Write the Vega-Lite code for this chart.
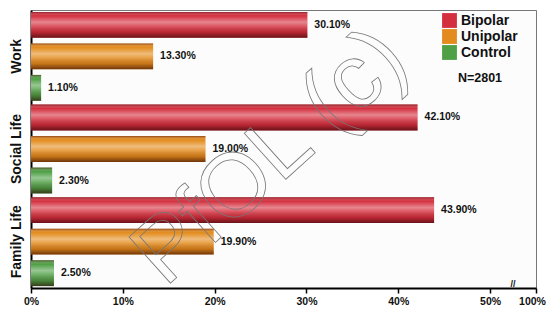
{
  "$schema": "https://vega.github.io/schema/vega-lite/v6.json",
  "width": 505,
  "height": 278,
  "autosize": {"type": "none"},
  "padding": {"left": 31, "top": 10, "right": 11, "bottom": 28},
  "background": "white",
  "config": {
    "font": "Liberation Sans",
    "view": {"stroke": "#777", "strokeWidth": 1, "fill": "#fcfcfc"}
  },
  "data": {
    "values": [
      {"cat": "Work", "group": "Bipolar", "value": 0.301},
      {"cat": "Work", "group": "Unipolar", "value": 0.133},
      {"cat": "Work", "group": "Control", "value": 0.011},
      {"cat": "Social Life", "group": "Bipolar", "value": 0.421},
      {"cat": "Social Life", "group": "Unipolar", "value": 0.19},
      {"cat": "Social Life", "group": "Control", "value": 0.023},
      {"cat": "Family Life", "group": "Bipolar", "value": 0.439},
      {"cat": "Family Life", "group": "Unipolar", "value": 0.199},
      {"cat": "Family Life", "group": "Control", "value": 0.025}
    ]
  },
  "layer": [
    {
      "mark": {"type": "bar", "cornerRadius": 0},
      "encoding": {
        "y": {"field": "cat", "type": "nominal", "sort": ["Work", "Social Life", "Family Life"],
              "scale": {"paddingInner": 0, "paddingOuter": 0},
              "axis": {"title": null, "labelAngle": 270, "labelAlign": "center", "labelBaseline": "bottom",
                       "labelFontSize": 14, "labelFontWeight": "bold", "labelColor": "#111", "labelPadding": 8,
                       "ticks": false, "domainColor": "#000", "domainWidth": 2}},
        "yOffset": {"field": "group", "type": "nominal", "sort": ["Bipolar", "Unipolar", "Control"],
                    "scale": {"paddingInner": 0.18, "paddingOuter": 0.06}},
        "x": {"field": "value", "type": "quantitative",
              "scale": {"domain": [0, 0.55], "nice": false, "zero": true},
              "axis": {"title": null, "grid": false, "values": [0, 0.1, 0.2, 0.3, 0.4, 0.5, 0.55],
                       "labelExpr": "datum.value > 0.52 ? '100%' : format(datum.value, '.0%')",
                       "labelFlush": false, "labelOverlap": false,
                       "labelOffset": {"condition": {"test": "datum.value > 0.52", "value": -4}, "value": 0},
                       "labelFontSize": 10.5, "labelFontWeight": "bold", "labelColor": "#111",
                       "domainColor": "#000", "domainWidth": 2, "tickColor": "#000", "tickWidth": 1.5, "tickSize": 5,
                       "labelPadding": 3}},
        "color": {"field": "group", "type": "nominal", "sort": ["Bipolar", "Unipolar", "Control"],
                  "scale": {"domain": ["Bipolar", "Unipolar", "Control"], "range": ["#d42f3e", "#e38b1c", "#4e9f45"]},
                  "legend": {"orient": "none", "legendX": 411, "legendY": 3, "title": "N=2801",
                             "titleOrient": "bottom", "titleAnchor": "middle", "titleFontSize": 12.5,
                             "titleFontWeight": "bold", "titleColor": "#111", "titlePadding": 12,
                             "labelFontSize": 14, "labelFontWeight": "bold", "labelColor": "#111",
                             "symbolType": "square", "symbolSize": 220, "symbolStrokeWidth": 0,
                             "rowPadding": 1, "labelOffset": 4}}
      }
    },
    {
      "mark": {"type": "bar",
               "color": {"gradient": "linear", "x1": 0, "y1": 0, "x2": 0, "y2": 1,
                         "stops": [
                           {"offset": 0, "color": "rgba(70,0,0,0.5)"},
                           {"offset": 0.15, "color": "rgba(255,255,255,0.0)"},
                           {"offset": 0.4, "color": "rgba(255,255,255,0.42)"},
                           {"offset": 0.55, "color": "rgba(255,255,255,0.2)"},
                           {"offset": 0.78, "color": "rgba(40,0,0,0.15)"},
                           {"offset": 1, "color": "rgba(40,0,0,0.62)"}
                         ]}},
      "encoding": {
        "y": {"field": "cat", "type": "nominal", "sort": ["Work", "Social Life", "Family Life"]},
        "yOffset": {"field": "group", "type": "nominal", "sort": ["Bipolar", "Unipolar", "Control"]},
        "x": {"field": "value", "type": "quantitative"}
      }
    },
    {
      "mark": {"type": "text", "align": "left", "baseline": "middle", "dx": 7, "fontSize": 10.5,
               "fontWeight": "bold", "color": "#111"},
      "encoding": {
        "y": {"field": "cat", "type": "nominal", "sort": ["Work", "Social Life", "Family Life"]},
        "yOffset": {"field": "group", "type": "nominal", "sort": ["Bipolar", "Unipolar", "Control"]},
        "x": {"field": "value", "type": "quantitative"},
        "text": {"field": "value", "type": "quantitative", "format": ".2%"}
      }
    },
    {
      "data": {"values": [{"t": "PfOL (c)"}]},
      "mark": {"type": "text", "align": "center", "baseline": "middle", "angle": 318, "dy": 8, "dx": -3,
               "font": "Liberation Sans", "fontSize": 90, "fill": "transparent", "fillOpacity": 0,
               "stroke": "#777", "strokeWidth": 0.8},
      "encoding": {
        "x": {"datum": 0.257, "type": "quantitative"},
        "y": {"datum": "Social Life", "type": "nominal"},
        "text": {"field": "t"}
      }
    },
    {
      "data": {"values": [{"t": "//"}]},
      "mark": {"type": "text", "align": "center", "baseline": "middle", "dy": 42, "fontSize": 9,
               "fontWeight": "bold", "color": "#111"},
      "encoding": {
        "x": {"datum": 0.525, "type": "quantitative"},
        "y": {"datum": "Family Life", "type": "nominal"},
        "text": {"field": "t"}
      }
    }
  ]
}
